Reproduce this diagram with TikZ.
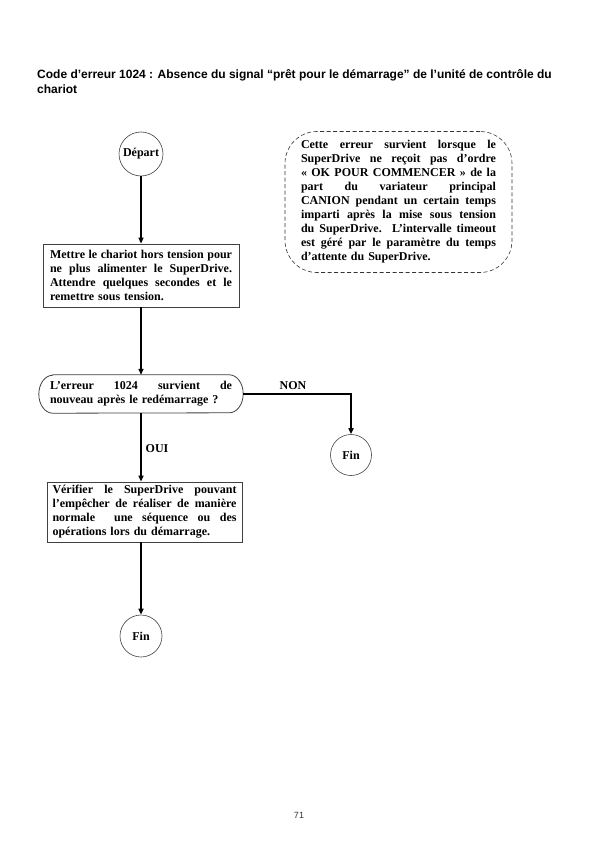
\documentclass[tikz,border=0pt]{standalone}
\usepackage{fontspec}
\setmainfont{Liberation Serif}
\newfontfamily\arialfont{Liberation Sans}
\usetikzlibrary{arrows.meta}
\newcommand\jline[2]{\makebox[#1][s]{\spaceskip=0pt \xspaceskip=0pt #2}}
\begin{document}
\begin{tikzpicture}[x=1pt,y=-1pt,
  conn/.style={line width=1.8pt,-{Triangle[length=6pt,width=5pt]}},
  txt/.style={font=\bfseries\fontsize{12}{14}\selectfont},
  boxnode/.style={draw=black!75,line width=0.8pt,txt,align=left,inner ysep=0pt},
  term/.style={circle,draw=black!75,line width=0.6pt,minimum size=42pt,inner sep=0pt,txt},
  lbl/.style={txt,inner sep=0pt}]
\useasboundingbox (0,0) rectangle (596,842);
% title
\node[anchor=base west,inner sep=0pt,font=\arialfont\bfseries\fontsize{12}{14}\selectfont] (title1) at (37,79)
  {Code d’erreur 1024 : Absence du signal “prêt pour le démarrage” de l’unité de contrôle du};
\node[anchor=base west,inner sep=0pt,font=\arialfont\bfseries\fontsize{12}{14}\selectfont] (title2) at (37,94) {chariot};
% start
\node[term,minimum size=44pt] (start) at (141,154) {Départ};
% box 1
\node[boxnode,text width=182pt,inner xsep=7pt,minimum height=63pt] (b1) at (141,275.5)
  {\jline{182pt}{Mettre le chariot hors tension pour}\\
   \jline{182pt}{ne plus alimenter le SuperDrive.}\\
   \jline{182pt}{Attendre quelques secondes et le}\\
   remettre sous tension.};
% decision
\node[lbl,minimum width=204pt,minimum height=38pt,text width=182pt,align=left] (dec) at (141,394)
  {\jline{182pt}{L’erreur 1024 survient de}\\ nouveau après le redémarrage ?};
\draw[black!75,line width=0.8pt] ([xshift=14pt]dec.north west) -- ([xshift=-14pt]dec.north east)
  arc[start angle=90,end angle=-90,x radius=14pt,y radius=19pt]
  -- ([xshift=14pt]dec.south west)
  arc[start angle=270,end angle=90,x radius=14pt,y radius=19pt] -- cycle;
% box 2
\node[boxnode,text width=184pt,inner xsep=5.5pt,minimum height=60pt] (b2) at (144.5,512)
  {\jline{184pt}{Vérifier le SuperDrive pouvant}\\
   \jline{184pt}{l’empêcher de réaliser de manière}\\
   \jline{184pt}{normale \ une séquence ou des}\\
   opérations lors du démarrage.};
% ends
\node[term] (fin1) at (141,636) {Fin};
\node[term,minimum size=41pt] (fin2) at (351,455) {Fin};
% comment
\node[draw=black!80,line width=0.6pt,dash pattern=on 4pt off 2.5pt,rounded corners=32pt,
  minimum width=227pt,minimum height=141pt,text width=195pt,align=left,
  font=\bfseries\fontsize{12}{14}\selectfont] (note) at (398.5,202)
  {\jline{195pt}{Cette erreur survient lorsque le}\\
   \jline{195pt}{SuperDrive ne reçoit pas d’ordre}\\
   \jline{195pt}{« OK POUR COMMENCER » de la}\\
   \jline{195pt}{part du variateur principal}\\
   \jline{195pt}{CANION pendant un certain temps}\\
   \jline{195pt}{imparti après la mise sous tension}\\
   \jline{195pt}{du SuperDrive. L’intervalle timeout}\\
   \jline{195pt}{est géré par le paramètre du temps}\\
   d’attente du SuperDrive.};
% connectors
\draw[conn] (start.south) -- (b1.north);
\draw[conn] (b1.south) -- (dec.north);
\draw[conn] (dec.east) -| (fin2.north);
\draw[conn] (dec.south) -- (dec.south |- b2.north);
\draw[conn] (b2.south -| fin1.north) -- (fin1.north);
% labels
\node[lbl] (non) at (293,386) {NON};
\node[lbl] (oui) at (157,449) {OUI};
% page number
\node[inner sep=0pt,text=black!80,font=\arialfont\fontsize{9}{10}\selectfont] (page) at (299,815) {71};
\end{tikzpicture}
\end{document}
